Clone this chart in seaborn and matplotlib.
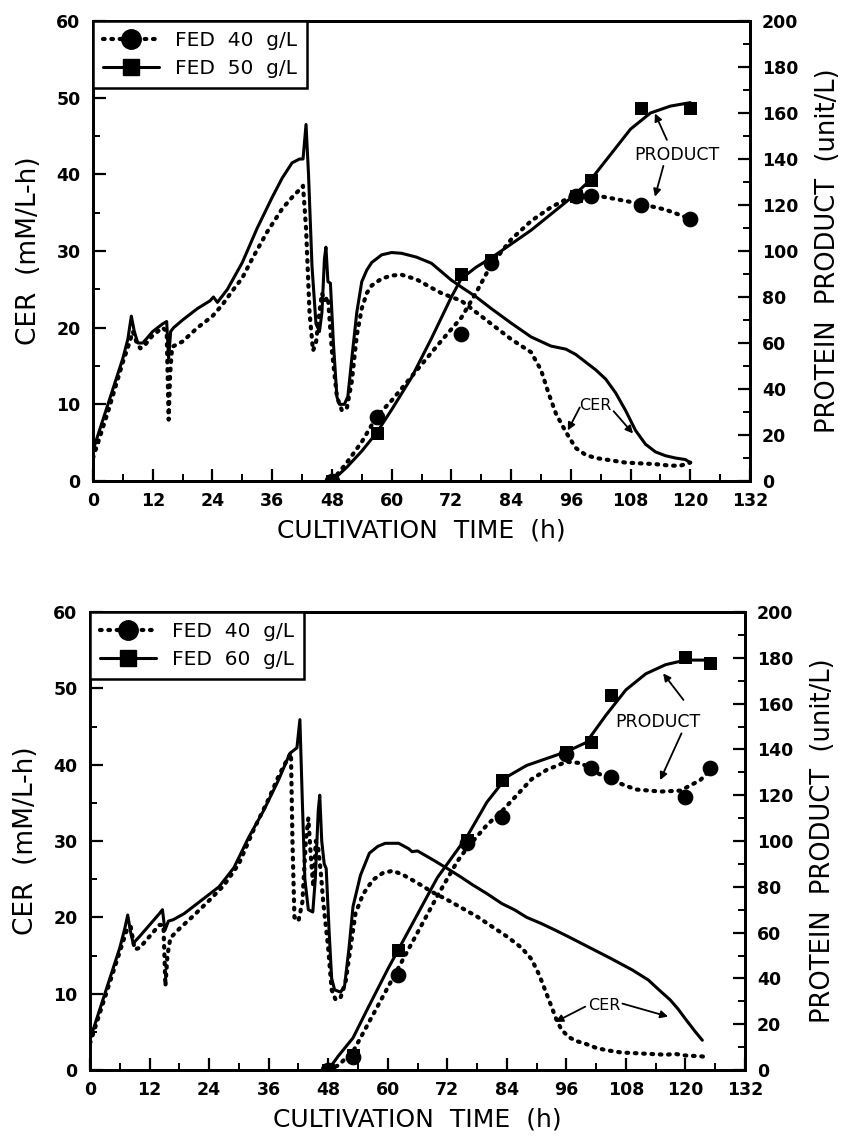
import matplotlib
matplotlib.use("Agg")
import matplotlib.pyplot as plt
from matplotlib.lines import Line2D
from matplotlib.ticker import MultipleLocator
import seaborn as sns

# ---------------- data: top panel ----------------
top_t40 = [0, 3, 6, 7.3, 8.0, 8.8, 9.5, 10.5, 12, 14, 14.8, 15.2, 15.5, 15.9, 18, 21, 24, 26, 28, 30, 32, 35, 38, 40,
           41.5, 42.2, 42.8, 43.5, 44.2, 44.8, 45.5, 46.0, 46.5, 47.2, 48, 49, 50, 51, 52, 53, 54, 55, 56, 58, 60, 62,
           65, 68, 70, 74, 77, 80, 84, 88, 90, 91.5, 93, 95, 97, 99, 101, 104, 107, 110, 113, 116, 118, 120]
top_cer40 = [3, 9, 15.5, 18, 19.5, 18, 17.3, 17.8, 19, 20, 19.5, 8, 14, 17.5, 18.2, 20, 21.5, 23, 24.8, 26.5, 29, 32.5,
             35.5, 37, 38, 38.5, 33, 22, 17, 18, 22, 24.5, 23.5, 24, 17, 11, 9.2, 9.5, 13, 19, 22.5, 24.5, 25.5, 26.4,
             26.8, 26.9, 26.3, 25.2, 24.5, 23.5, 22, 20.5, 18.5, 16.8, 14.5, 11.5, 8.8, 6.4, 4.3, 3.4, 3.0, 2.7, 2.4,
             2.3, 2.2, 2.0, 2.0, 2.4]
top_t50 = [0, 3, 6, 7.0, 7.7, 8.3, 9.0, 10, 12, 14, 14.8, 15.2, 15.6, 16.2, 18, 21, 23.5, 24.2, 25, 27, 30, 33, 36, 38,
           40, 41.5, 42.2, 42.8, 43.3, 44, 44.8, 45.5, 46.0, 46.5, 46.8, 47.2, 47.7, 48.3, 49, 49.5, 50.5, 51.2, 52,
           53, 54, 55, 56, 58, 60, 62, 65, 68, 70, 72, 74, 77, 80, 84, 88, 92, 95, 97, 99, 101, 103, 105, 107, 109,
           111, 113, 115, 117, 119, 120]
top_cer50 = [4, 10, 16, 18.5, 21.5, 19.5, 18, 18, 19.5, 20.5, 20.8, 16, 19.5, 20, 21, 22.5, 23.5, 24, 23.3, 25, 28.5,
             33, 37, 39.5, 41.5, 42, 42, 46.5, 40, 28, 20.5, 19.5, 22, 29, 30.5, 26, 25.8, 18, 11, 10, 10, 11, 16, 22,
             26, 27.5, 28.5, 29.5, 29.8, 29.7, 29.2, 28.4, 27.3, 26.2, 25.3, 24, 22.5, 20.6, 18.8, 17.6, 17.2, 16.5,
             15.5, 14.5, 13.3, 11.5, 9.2, 6.6, 4.8, 3.8, 3.3, 3.0, 2.8, 2.4]
top_pt = [48, 57, 74, 80, 97, 100, 110, 120]
top_p40 = [0, 28, 64, 95, 124, 124, 120, 114]
top_p50 = [0, 21, 90, 96, 124, 131, 162, 162]
top_fit40_t = [48, 51, 54, 57, 60, 65, 70, 74, 77, 80, 84, 88, 92, 96, 100, 104, 110, 115, 120]
top_fit40_p = [0, 8, 17, 28, 35, 48, 61, 71, 82, 94, 105, 113, 119, 123.5, 124.5, 123, 120.5, 118, 114]
top_fit50_t = [48, 51, 54, 57, 60, 64, 68, 72, 74, 77, 80, 84, 88, 92, 96, 100, 104, 108, 112, 116, 120]
top_fit50_p = [0, 6, 13, 21, 31, 45, 62, 80, 88, 93, 97, 103, 109, 116, 123, 131, 142, 153, 160, 163, 164.5]

# ---------------- data: bottom panel ----------------
bot_t40 = [0, 3, 6, 7.5, 8.2, 9, 10, 12, 14, 14.8, 15.2, 15.6, 16.2, 18, 21, 24, 27, 30, 33, 36, 38, 40, 40.5, 40.8,
           41.2, 42, 42.8, 43.5, 44, 44.5, 45, 45.5, 46, 46.5, 47, 48, 48.7, 49.5, 50.5, 51.5, 52.5, 53.5, 55, 57, 59,
           61, 63, 66, 69, 72, 75, 78, 81, 84, 87, 89, 90.5, 92, 93, 94, 95, 96.5, 98, 100, 102, 104, 107, 110, 113,
           116, 118, 120, 123, 124.5]
bot_cer40 = [3.5, 9.5, 15.5, 18.5, 18.8, 15.8, 16, 17.5, 19, 19, 11, 15, 17.3, 18.5, 20.3, 22.2, 24.2, 27, 31.5, 35.5,
             38.5, 41, 41.5, 30, 20, 19.5, 22, 30, 33, 28, 24, 30, 29, 26, 22, 16, 10.5, 9.2, 9.5, 11.5, 16, 20.5, 23,
             24.9, 25.8, 26.1, 25.6, 24.5, 23.3, 22.3, 21.2, 20.1, 18.8, 17.5, 16, 14.5, 12.5, 10, 8.3, 6.6, 5.3, 4.3,
             3.8, 3.4, 2.9, 2.6, 2.3, 2.2, 2.1, 2.0, 2.1, 1.9, 1.8, 1.7]
bot_t60 = [0, 3, 6, 7.0, 7.6, 8.2, 8.7, 10, 12, 14, 14.6, 15.1, 15.8, 16.8, 19, 22, 23.8, 26, 29, 32, 35, 38, 40.3, 41.7,
           42.3, 42.8, 43.3, 44, 44.9, 45.4, 46, 46.3, 46.7, 47.2, 47.6, 48.2, 48.7, 49.3, 50.5, 51.3, 52.2, 53, 54.5,
           56.3, 58, 59.5, 62.2, 64.2, 64.9, 66, 69.2, 72, 74.7, 77, 80, 83, 85.5, 88, 90.9, 93.5, 96.3, 99, 101.7, 105,
           109.3, 112.5, 115, 116.9, 118.5, 120.1, 122, 123.4]
bot_cer60 = [4, 10, 16, 18.5, 20.3, 18, 16.6, 17.5, 19, 20.5, 21, 18.3, 19.5, 19.7, 20.5, 22, 22.9, 24, 26.5, 30.5, 34,
             38, 41.5, 42.2, 45.9, 35, 25, 21, 20.7, 25, 34, 36, 30, 27, 26.4, 18, 12, 10.5, 10.2, 11, 16, 21.4, 25.5,
             28.4, 29.3, 29.7, 29.7, 29, 28.6, 28.7, 27.5, 26.4, 25.3, 24.3, 23.1, 21.8, 21, 20, 19.2, 18.4, 17.5, 16.6,
             15.7, 14.6, 13.1, 11.8, 10.3, 9.2, 8, 6.6, 5, 3.9]
bot_pt40 = [48, 53, 62, 76, 83, 96, 101, 105, 120, 125]
bot_p40 = [0, 5.5, 41.5, 99, 110.6, 138, 131.7, 127.8, 119, 131.7]
bot_pt60 = [48, 53, 62, 76, 83, 96, 101, 105, 120, 125]
bot_p60 = [0, 6.5, 52.4, 100.4, 126.6, 139, 143.4, 163.8, 180.5, 177.6]
bot_fit40_t = [48, 50, 53, 56, 60, 62, 66, 70, 74, 76, 80, 83, 86, 89, 92, 96, 99, 102, 105, 110, 115, 119, 123, 125]
bot_fit40_p = [0, 2, 8, 20, 36, 44, 60, 76, 91, 97, 107, 113, 120, 127, 131, 134.6, 134, 130, 126.6, 122.5, 121.6, 122,
               126.6, 131]
bot_fit60_t = [48, 50, 53, 56, 60, 62, 66, 70, 74, 76, 80, 84, 88, 92, 96, 100, 104, 108, 112, 116, 120, 125]
bot_fit60_p = [0, 6, 14, 27, 44, 52, 68, 84, 96, 102, 117, 128, 133, 136, 139, 143, 155, 166, 173, 177, 179, 179]

# ---------------- style ----------------
sns.set_theme(style="ticks")
plt.rcParams["font.family"] = ["DejaVu Sans"]
plt.rcParams["axes.linewidth"] = 2.0
for key in ("text.color", "axes.labelcolor", "xtick.color", "ytick.color", "axes.edgecolor"):
    plt.rcParams[key] = "black"

DOT = dict(linestyle=(0, (0.4, 1.6)), linewidth=3.0, dash_capstyle="round", color="black")
SOL = dict(linestyle="-", linewidth=2.2, color="black")

fig = plt.figure(figsize=(8.46, 11.39), dpi=100)
W, H = 846.0, 1139.0


def line(ax, x, y, style):
    sns.lineplot(x=x, y=y, ax=ax, sort=False, estimator=None, legend=False, **style)


def setup(ax, ax2):
    ax.set_xlim(0, 132)
    ax.set_ylim(0, 60)
    ax2.set_ylim(0, 200)
    ax.xaxis.set_major_locator(MultipleLocator(12))
    ax.xaxis.set_minor_locator(MultipleLocator(6))
    ax.yaxis.set_major_locator(MultipleLocator(10))
    ax.yaxis.set_minor_locator(MultipleLocator(5))
    ax2.yaxis.set_major_locator(MultipleLocator(20))
    ax2.yaxis.set_minor_locator(MultipleLocator(10))
    for a in (ax, ax2):
        a.tick_params(which="major", direction="in", length=9, width=1.6, color="black", labelsize=12.5,
                      labelcolor="black")
        a.tick_params(which="minor", direction="in", length=5, width=1.4, color="black")
        for s in a.spines.values():
            s.set_linewidth(2.0)
            s.set_color("black")
    ax.tick_params(axis="x", which="both", top=False, pad=8)
    ax.tick_params(axis="y", which="both", right=False, pad=9)
    ax2.tick_params(axis="y", which="both", pad=8.5)
    for lab in ax.get_xticklabels() + ax.get_yticklabels() + ax2.get_yticklabels():
        lab.set_fontweight("bold")
    ax.set_xlabel("CULTIVATION  TIME  (h)", fontsize=18, labelpad=6, color="black")
    ax.set_ylabel("CER  (mM/L-h)", fontsize=19, labelpad=10, color="black")
    ax2.set_ylabel("PROTEIN  PRODUCT  (unit/L)", fontsize=18.5, labelpad=12, color="black")
    ax.set_facecolor("white")


def legend(ax2, lab1, lab2):
    h = [Line2D([], [], marker="o", markersize=14, markerfacecolor="black", markeredgecolor="black", **DOT),
         Line2D([], [], marker="s", markersize=12, markerfacecolor="black", markeredgecolor="black", **SOL)]
    lg = ax2.legend(h, [lab1, lab2], loc="upper left", bbox_to_anchor=(0, 1), borderaxespad=0, fancybox=False,
                    framealpha=1, edgecolor="black", fontsize=14.5, handlelength=2.8, handletextpad=0.75,
                    borderpad=0.5, labelspacing=0.45, labelcolor="black")
    lg.get_frame().set_linewidth(1.8)
    lg.set_zorder(10)


def arrow(ax, tip, start):
    ax.annotate("", xy=tip, xytext=start,
                arrowprops=dict(arrowstyle="-|>", color="black", lw=1.3, mutation_scale=11, shrinkA=0, shrinkB=0))


# ---------------- top panel ----------------
ax1 = fig.add_axes([93 / W, 1 - 481 / H, (750 - 93) / W, (481 - 21) / H])
ax1b = ax1.twinx()
line(ax1, top_t40, top_cer40, DOT)
line(ax1, top_t50, top_cer50, SOL)
line(ax1b, top_fit40_t, top_fit40_p, DOT)
line(ax1b, top_fit50_t, top_fit50_p, SOL)
sns.scatterplot(x=top_pt, y=top_p40, ax=ax1b, marker="o", s=110, color="black", edgecolor="black", legend=False, zorder=5)
sns.scatterplot(x=top_pt, y=top_p50, ax=ax1b, marker="s", s=80, color="black", edgecolor="black", legend=False, zorder=5)
setup(ax1, ax1b)
legend(ax1b, "FED  40  g/L", "FED  50  g/L")
ax1b.text(117.3, 141.7, "PRODUCT", fontsize=12.5, ha="center", va="center", color="black")
arrow(ax1b, (112.9, 159.8), (115.3, 148.3))
arrow(ax1b, (112.9, 123.6), (114.6, 137.0))
ax1.text(101.0, 9.9, "CER", fontsize=11.5, ha="center", va="center", color="black")
arrow(ax1, (95.4, 6.6), (97.8, 9.6))
arrow(ax1, (108.5, 6.2), (104.6, 9.1))

# ---------------- bottom panel ----------------
ax2 = fig.add_axes([90 / W, 1 - 1070 / H, (745 - 90) / W, (1070 - 612) / H])
ax2b = ax2.twinx()
line(ax2, bot_t40, bot_cer40, DOT)
line(ax2, bot_t60, bot_cer60, SOL)
line(ax2b, bot_fit40_t, bot_fit40_p, DOT)
line(ax2b, bot_fit60_t, bot_fit60_p, SOL)
sns.scatterplot(x=bot_pt40, y=bot_p40, ax=ax2b, marker="o", s=110, color="black", edgecolor="black", legend=False, zorder=5)
sns.scatterplot(x=bot_pt60, y=bot_p60, ax=ax2b, marker="s", s=80, color="black", edgecolor="black", legend=False, zorder=5)
setup(ax2, ax2b)
legend(ax2b, "FED  40  g/L", "FED  60  g/L")
ax2b.text(114.5, 152, "PRODUCT", fontsize=12.5, ha="center", va="center", color="black")
arrow(ax2b, (115.5, 173.2), (119.6, 161.6))
arrow(ax2b, (114.9, 126.6), (119.2, 147.0))
ax2.text(103.6, 8.5, "CER", fontsize=11.5, ha="center", va="center", color="black")
arrow(ax2, (93.8, 6.3), (99.8, 8.3))
arrow(ax2, (116.5, 7.0), (107.3, 8.7))

fig.savefig("out.png", dpi=100, facecolor="white")
